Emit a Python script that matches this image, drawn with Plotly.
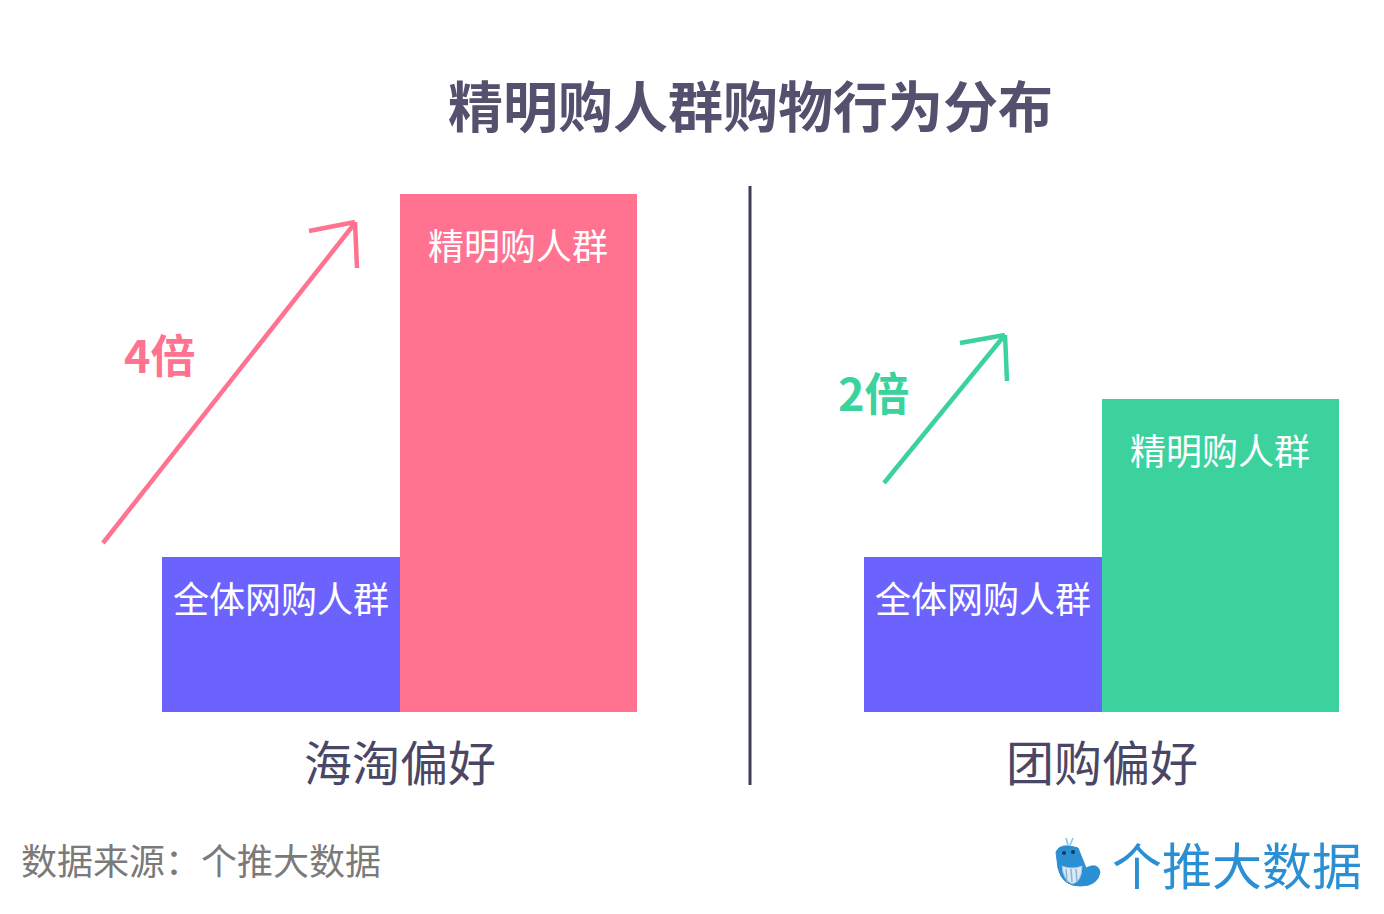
import plotly.graph_objects as go

# ---- data ----
groups = ["海淘偏好", "团购偏好"]
categories = ["全体网购人群", "精明购人群"]
haitao_values = [1.0, 3.34]
tuangou_values = [1.0, 2.02]
multiples = ["4倍", "2倍"]
title_text = "精明购人群购物行为分布"
source_text = "数据来源：个推大数据"
brand_text = "个推大数据"

PURPLE = "#6c63fe"
PINK = "#ff7290"
GREEN = "#3bd29e"
DARK = "#4a4766"
FONT = "Noto Sans CJK SC"

W, H = 1384, 914
def px(x):
    return x / W
def py(y):
    return 1 - y / H

fig = go.Figure()
fig.add_trace(go.Bar(x=categories, y=haitao_values, xaxis="x", yaxis="y",
                     marker=dict(color=[PURPLE, PINK], line=dict(width=0)),
                     hoverinfo="skip", showlegend=False))
fig.add_trace(go.Bar(x=categories, y=tuangou_values, xaxis="x2", yaxis="y",
                     marker=dict(color=[PURPLE, GREEN], line=dict(width=0)),
                     hoverinfo="skip", showlegend=False))

ymax = max(haitao_values)
axis_common = dict(showgrid=False, zeroline=False, showticklabels=False,
                   showline=False, ticks="", fixedrange=True)
fig.update_layout(
    width=W, height=H,
    margin=dict(l=0, r=0, t=0, b=0),
    paper_bgcolor="white", plot_bgcolor="white",
    bargap=0, bargroupgap=0,
    xaxis=dict(domain=[px(162), px(637)], range=[-0.5, 1.5], anchor="y", **axis_common),
    xaxis2=dict(domain=[px(864), px(1339)], range=[-0.5, 1.5], anchor="y", **axis_common),
    yaxis=dict(domain=[py(712), py(194)], range=[0, ymax], **axis_common),
    font=dict(family=FONT),
)

ann = []
# title
ann.append(dict(text="<b>" + title_text + "</b>", x=px(750), y=py(103), xref="paper", yref="paper",
                showarrow=False, font=dict(size=55, color="#54506e", family=FONT),
                xanchor="center", yanchor="middle"))
# bar labels
for xr, vals in (("x", haitao_values), ("x2", tuangou_values)):
    for i, (c, v) in enumerate(zip(categories, vals)):
        ann.append(dict(text=c, x=c, y=v, xref=xr, yref="y", showarrow=False,
                        font=dict(size=36, color="white", family=FONT),
                        xanchor="center", yanchor="middle",
                        yshift=-40 if i == 0 else -50))
# group labels
for xr, g in (("x domain", groups[0]), ("x2 domain", groups[1])):
    ann.append(dict(text=g, x=0.5, y=py(760), xref=xr, yref="paper", showarrow=False,
                    font=dict(size=48, color=DARK, family=FONT),
                    xanchor="center", yanchor="middle"))
# multiples
ann.append(dict(text="<b>" + multiples[0] + "</b>", x=px(160), y=py(354), xref="paper", yref="paper",
                showarrow=False, font=dict(size=45, color=PINK, family=FONT),
                xanchor="center", yanchor="middle"))
ann.append(dict(text="<b>" + multiples[1] + "</b>", x=px(874), y=py(392), xref="paper", yref="paper",
                showarrow=False, font=dict(size=45, color=GREEN, family=FONT),
                xanchor="center", yanchor="middle"))
# source
ann.append(dict(text=source_text, x=px(19), y=py(859), xref="paper", yref="paper",
                showarrow=False, font=dict(size=36, color="#7a7a7a", family=FONT),
                xanchor="left", yanchor="middle"))
# brand
ann.append(dict(text=brand_text, x=px(1364), y=py(863), xref="paper", yref="paper",
                showarrow=False, font=dict(size=50, color="#2b8fd3", family=FONT),
                xanchor="right", yanchor="middle"))
fig.update_layout(annotations=ann)

shapes = []
def seg(x0, y0, x1, y1, color, width):
    shapes.append(dict(type="line", xref="paper", yref="paper",
                       x0=px(x0), y0=py(y0), x1=px(x1), y1=py(y1),
                       line=dict(color=color, width=width)))
# divider
seg(750, 186, 750, 785, "#3f3d56", 3)
# pink arrow
seg(103, 543, 355, 223, PINK, 4.5)
seg(355, 222, 309, 231, PINK, 4.5)
seg(355, 222, 357, 268, PINK, 4.5)
# green arrow
seg(884, 483, 1004, 336, GREEN, 4.5)
seg(1005, 335, 960, 343, GREEN, 4.5)
seg(1005, 335, 1007, 381, GREEN, 4.5)

# simple whale logo
BLUE = "#2b8fd3"
shapes.append(dict(type="path", xref="paper", yref="paper",
                   path=(f"M {px(1056)},{py(852)} Q {px(1060)},{py(842)} {px(1078)},{py(848)} "
                         f"L {px(1086)},{py(868)} Q {px(1098)},{py(862)} {px(1100)},{py(872)} "
                         f"Q {px(1098)},{py(886)} {px(1080)},{py(886)} "
                         f"Q {px(1062)},{py(886)} {px(1058)},{py(868)} Z"),
                   fillcolor=BLUE, line=dict(color=BLUE, width=1)))
shapes.append(dict(type="path", xref="paper", yref="paper",
                   path=(f"M {px(1062)},{py(866)} Q {px(1072)},{py(870)} {px(1082)},{py(866)} "
                         f"Q {px(1082)},{py(882)} {px(1072)},{py(884)} Q {px(1063)},{py(880)} {px(1062)},{py(866)} Z"),
                   fillcolor="#dbe9f5", line=dict(color="#9fc3e0", width=1)))
for xx in (1066, 1071, 1076):
    seg(xx, 869, xx + 1, 882, "#8fb5d6", 1.5)
shapes.append(dict(type="circle", xref="paper", yref="paper",
                   x0=px(1062), y0=py(855), x1=px(1066), y1=py(851),
                   fillcolor="#163a5c", line=dict(width=0)))
shapes.append(dict(type="circle", xref="paper", yref="paper",
                   x0=px(1071), y0=py(854), x1=px(1075), y1=py(850),
                   fillcolor="#163a5c", line=dict(width=0)))
seg(1068, 845, 1066, 838, "#7fc0ea", 1.5)
seg(1070, 845, 1073, 838, "#7fc0ea", 1.5)
fig.update_layout(shapes=shapes)

fig.write_html("out.html")
